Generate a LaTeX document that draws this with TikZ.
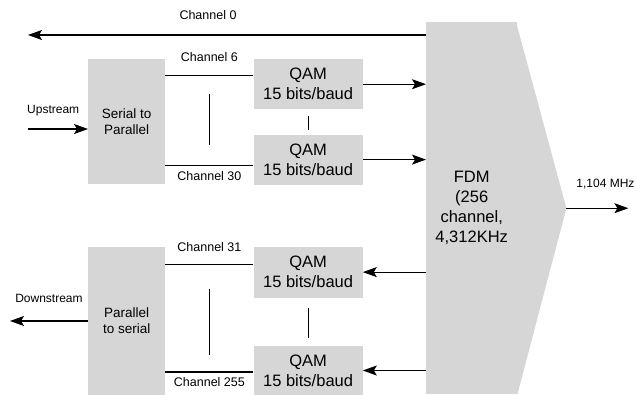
\documentclass[tikz,border=0pt]{standalone}
\usepackage{fontspec}
\setmainfont{Liberation Sans}
\usetikzlibrary{arrows.meta, positioning, calc}
\definecolor{boxgray}{HTML}{D6D6D6}

\begin{document}
\begin{tikzpicture}[
    x=1pt, y=-1pt,
    box/.style={rectangle, fill=boxgray, inner sep=0pt, align=center, minimum width=109pt, minimum height=50pt, font=\fontsize{16.5}{20}\selectfont},
    conv/.style={box, minimum width=77pt, font=\fontsize{13.5}{16}\selectfont},
    arrow/.style={-{Stealth[length=14pt, width=10pt, inset=3pt]}, line width=1.1pt},
    line/.style={line width=1.1pt},
    lbl/.style={inner sep=0pt, font=\fontsize{12.5}{14}\selectfont},
    side/.style={inner sep=0pt, font=\fontsize{12}{14}\selectfont}
]
    \useasboundingbox (0,0) rectangle (636,394);

    \node[conv, minimum height=125pt, anchor=north west] (s2p) at (88,59) {Serial to\\Parallel};
    \node[box, below right=0pt and 88pt of s2p.north east] (qam1) {QAM\\15 bits/baud};
    \node[box, below=25pt of qam1] (qam2) {QAM\\15 bits/baud};
    \node[conv, minimum height=148pt, below=62pt of s2p] (p2s) {Parallel\\to serial};
    \node[box, minimum height=51pt, below right=0pt and 88pt of p2s.north east] (qam3) {QAM\\15 bits/baud};
    \node[box, minimum height=49pt, below=48pt of qam3] (qam4) {QAM\\15 bits/baud};
    \node[box, minimum width=91pt, minimum height=372pt, anchor=north west] (fdm) at (426,22) {FDM\\(256\\channel,\\4,312KHz};
    \coordinate[right=49pt of fdm.east] (fdmtip);
    \fill[boxgray] ([xshift=-1pt]fdm.north east) -- ([yshift=-5pt]fdm.north east) -- (fdmtip) -- (fdm.south east) -- ([xshift=-1pt]fdm.south east) -- cycle;

    \coordinate (ch0end) at (28,35);
    \coordinate (upin) at (28,129);
    \coordinate (downout) at (10,321);
    \coordinate[right=62pt of fdmtip] (out);
    \coordinate (ch6) at ([yshift=9pt]qam1.west);
    \coordinate (ch30) at ([yshift=-6pt]qam2.west);
    \coordinate (ch31) at ([yshift=7.5pt]qam3.west);
    \coordinate (ch255) at ([yshift=-1.5pt]qam4.west);

    \draw[arrow] (ch0end -| fdm.west) -- node[lbl, midway, above=15pt, xshift=-19pt] {Channel 0} (ch0end);
    \draw[arrow] (upin) -- node[side, pos=0.42, above=12.5pt] {Upstream} (upin -| s2p.west);
    \draw[arrow] (downout -| p2s.west) -- node[side, midway, above=18pt] {Downstream} (downout);
    \draw[arrow] (fdmtip) -- node[side, pos=0.63, above=19pt] {1,104 MHz} (out);

    \draw[line] (s2p.east |- ch6) -- coordinate[midway] (m6) node[lbl, midway, above=13pt] {Channel 6} (ch6);
    \draw[line] (s2p.east |- ch30) -- coordinate[midway] (m30) node[lbl, midway, below=5pt] {Channel 30} (ch30);
    \draw[line] (p2s.east |- ch31) -- coordinate[midway] (m31) node[lbl, midway, above=12pt] {Channel 31} (ch31);
    \draw[line] (p2s.east |- ch255) -- coordinate[midway] (m255) node[lbl, midway, below=5pt] {Channel 255} (ch255);

    \draw[line, shorten <=19pt, shorten >=21pt] (m6) -- (m30);
    \draw[line, shorten <=24pt, shorten >=17pt] (m31) -- (m255);
    \draw[line, shorten <=7pt, shorten >=4pt] (qam1) -- (qam2);
    \draw[line, shorten <=10pt, shorten >=8pt] (qam3) -- (qam4);

    \draw[arrow] (qam1.east) -- (qam1.east -| fdm.west);
    \draw[arrow] (qam2.east) -- (qam2.east -| fdm.west);
    \draw[arrow] (qam3.east -| fdm.west) -- (qam3.east);
    \draw[arrow] (qam4.east -| fdm.west) -- (qam4.east);
\end{tikzpicture}
\end{document}
